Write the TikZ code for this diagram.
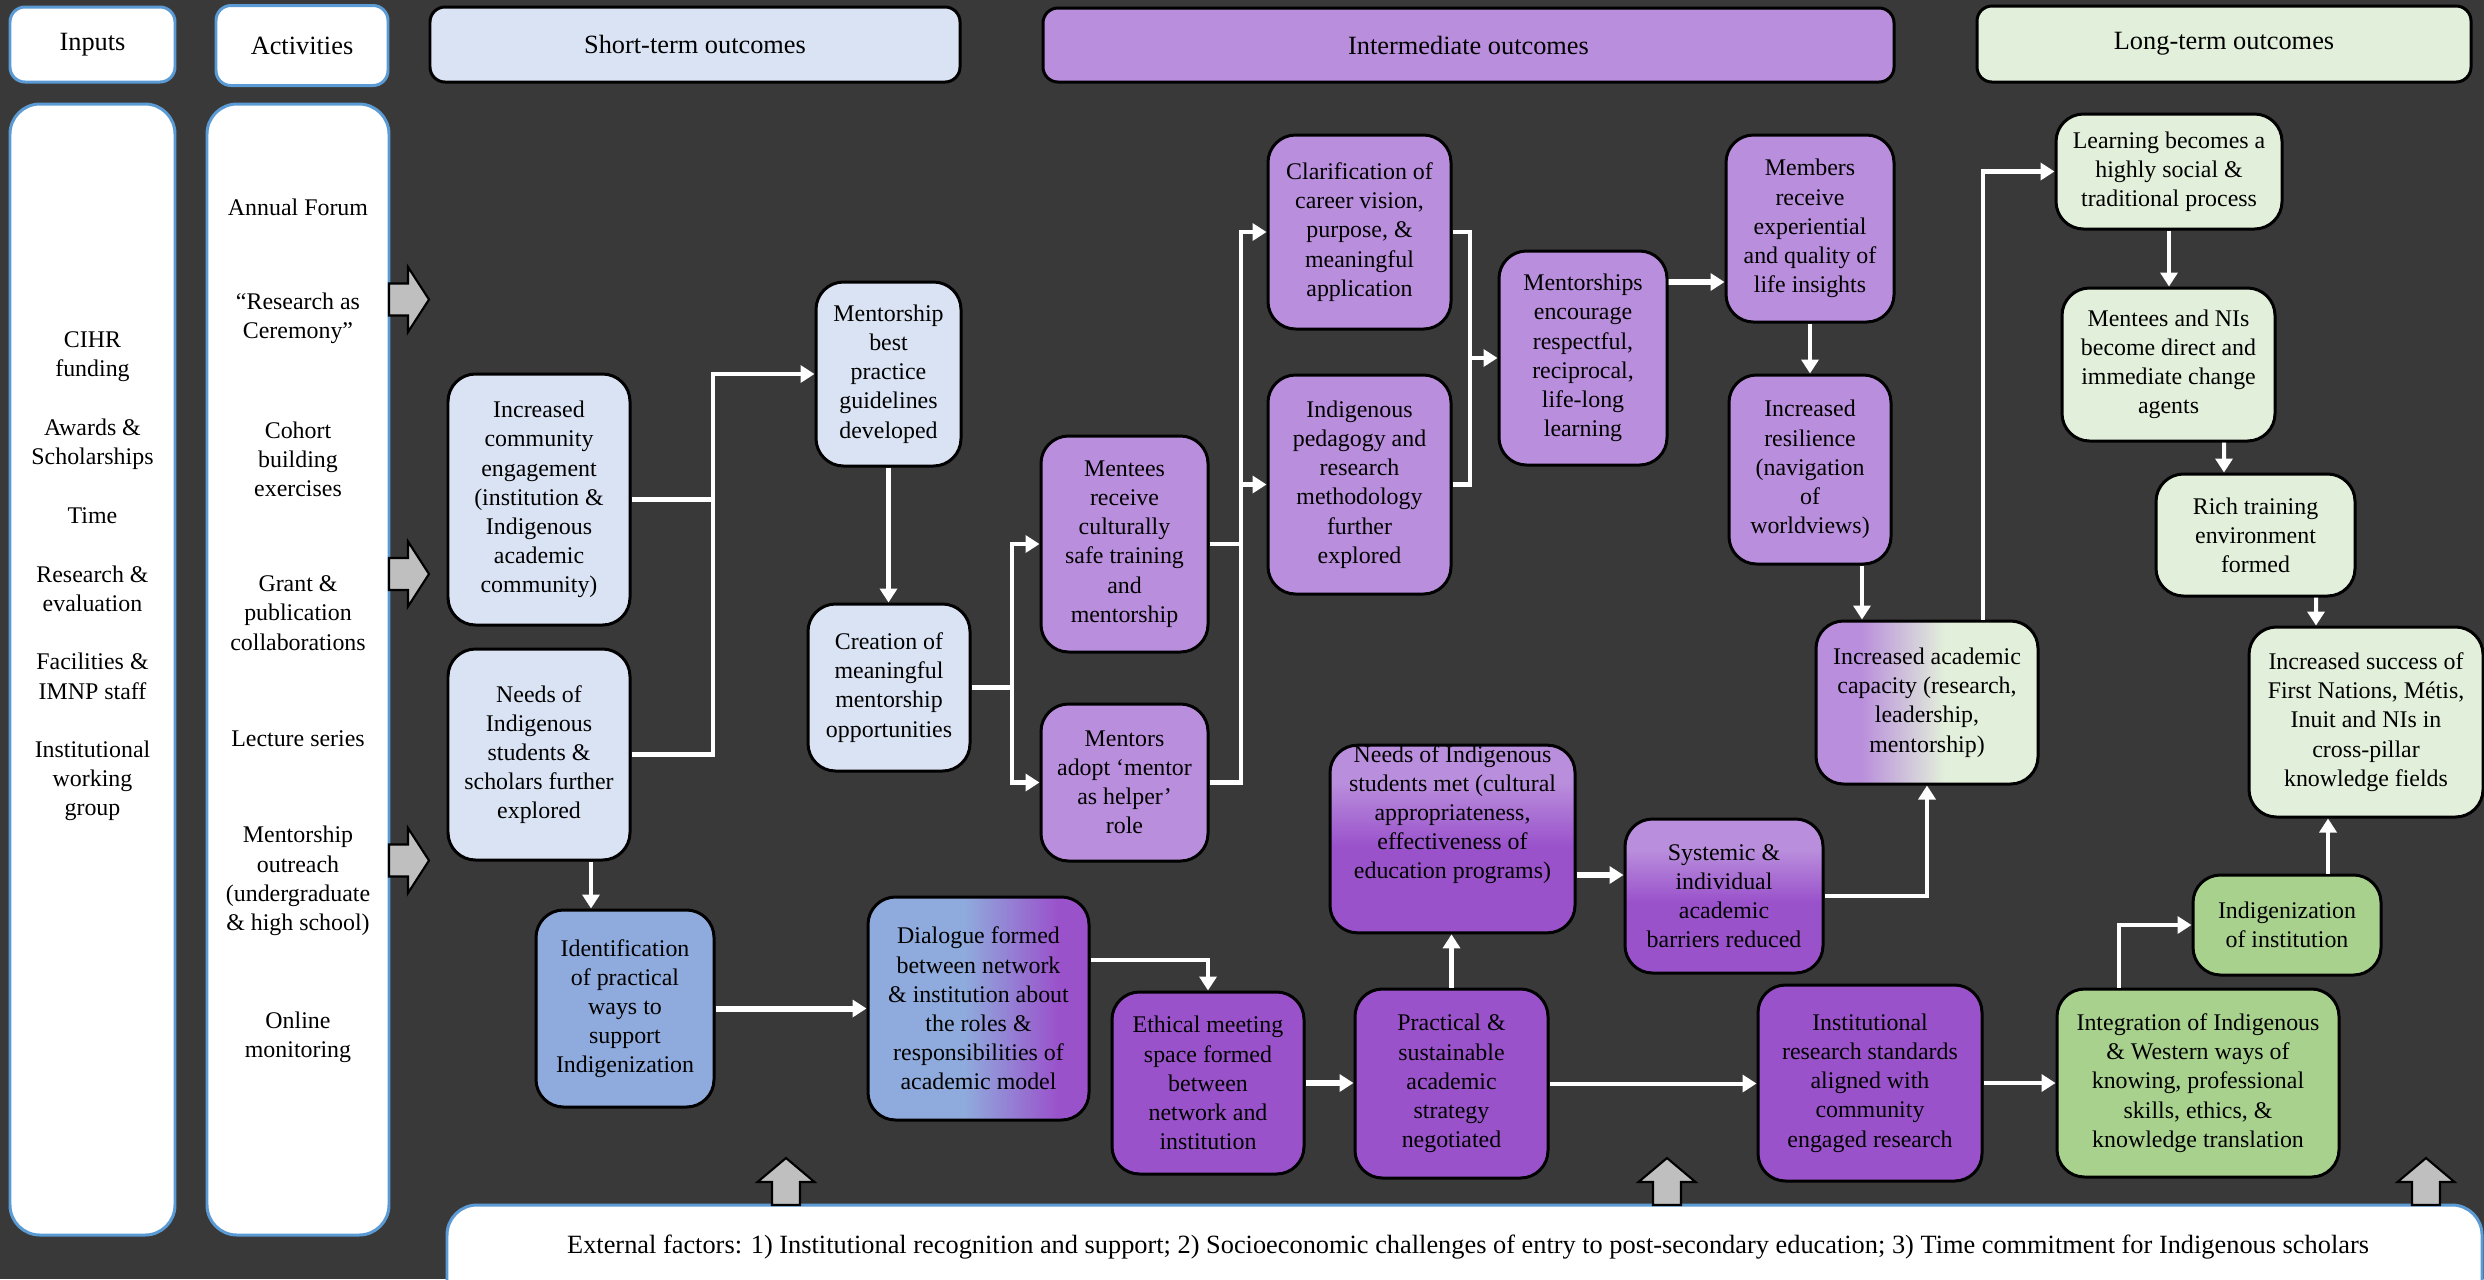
\documentclass[tikz,border=0pt]{standalone}
\usepackage{fontspec}
\setmainfont{Liberation Serif}
\usetikzlibrary{arrows.meta,calc}

\definecolor{bgdark}{HTML}{3A3939}
\definecolor{shortblue}{HTML}{DAE3F3}
\definecolor{lavender}{HTML}{B98EDC}
\definecolor{deeppurple}{HTML}{9A52CB}
\definecolor{idblue}{HTML}{8FAADC}
\definecolor{palegreen}{HTML}{E2EFDA}
\definecolor{midgreen}{HTML}{A9D18E}
\definecolor{colblue}{HTML}{5B9BD5}
\definecolor{arrowgray}{HTML}{BFBFBF}

\pgfdeclarehorizontalshading{dialogshade}{100bp}{color(0bp)=(idblue); color(47bp)=(idblue); color(68bp)=(deeppurple); color(100bp)=(deeppurple)}
\pgfdeclareverticalshading{needshade}{100bp}{color(0bp)=(deeppurple); color(48bp)=(deeppurple); color(65bp)=(lavender); color(100bp)=(lavender)}
\pgfdeclarehorizontalshading{capshade}{100bp}{color(0bp)=(lavender); color(35bp)=(lavender); color(54bp)=(palegreen); color(100bp)=(palegreen)}

\newcommand\boxfont{\fontsize{13.6}{16.6}\selectfont}
\newcommand\headfont{\fontsize{15}{18}\selectfont}

\begin{document}
\begin{tikzpicture}[x=0.02cm, y=-0.02cm,
    sz/.style 2 args={minimum width=#1*0.02cm, minimum height=#2*0.02cm},
    box/.style={draw=black, line width=1.7pt, rounded corners=0.55cm, align=center, inner sep=0pt, font=\boxfont},
    shortbox/.style={box, fill=shortblue},
    idbox/.style={box, fill=idblue},
    midbox/.style={box, fill=lavender},
    deepbox/.style={box, fill=deeppurple},
    greenbox/.style={box, fill=midgreen},
    longbox/.style={box, fill=palegreen},
    dialbox/.style={box, shade, shading=dialogshade},
    needbox/.style={box, shade, shading=needshade},
    capbox/.style={box, shade, shading=capshade},
    headbox/.style={draw=black, line width=1.7pt, rounded corners=0.3cm, inner sep=0pt, font=\headfont},
    colbox/.style={draw=colblue, fill=white, line width=1.7pt, rounded corners=0.6cm, inner sep=0pt},
    plain/.style={align=center, inner sep=0pt, font=\boxfont},
    link/.style={draw=white, line width=2.3pt},
    conn/.style={link, -{Triangle[length=0.28cm,width=0.34cm]}},
    fat/.style={line width=3.4pt},
    blockarrow/.style={draw=black, fill=arrowgray, line width=1.2pt}]

    % Achtergrond
    \useasboundingbox (0,0) rectangle (2484,1279);
    \fill[bgdark] (0,0) rectangle (2484,1279);

    % Kopjes
    \node[headbox, fill=white, draw=colblue, sz={165}{75}] (inhead) at (92.5,44.5) {Inputs};
    \node[headbox, fill=white, draw=colblue, sz={172}{80}] (acthead) at (302,45.5) {Activities};
    \node[headbox, fill=shortblue, sz={530}{75}] (shorthead) at (695,44.5) {Short-term outcomes};
    \node[headbox, fill=lavender, sz={851}{74}] (midhead) at (1468.5,45) {Intermediate outcomes};
    \node[headbox, fill=palegreen, sz={494}{76}] (longhead) at (2224,44) {Long-term outcomes};

    % Kolommen
    \node[colbox, sz={165}{1131}] (incol) at (92.5,669.5) {};
    \node[colbox, sz={182}{1131}] (actcol) at (298,669.5) {};

    \node[plain] (inputs) at (92.5,576.5) {CIHR\\funding\\[0.59cm]Awards \&\\Scholarships\\[0.59cm]Time\\[0.59cm]Research \&\\evaluation\\[0.59cm]Facilities \&\\IMNP staff\\[0.59cm]Institutional\\working\\group};

    \node[plain] (act1) at (298,207) {Annual Forum};
    \node[plain] (act2) at (298,318) {“Research as\\Ceremony”};
    \node[plain] (act3) at (298,459) {Cohort\\building\\exercises};
    \node[plain] (act4) at (298,613) {Grant \&\\publication\\collaborations};
    \node[plain] (act5) at (298,739) {Lecture series};
    \node[plain] (act6) at (298,881) {Mentorship\\outreach\\(undergraduate\\\& high school)};
    \node[plain] (act7) at (298,1037) {Online\\monitoring};

    % Grijze pijlen
    \foreach \y in {299.5,574,860.5} {
      \draw[blockarrow] (389,\y-16) -- (408,\y-16) -- (408,\y-32.5) -- (429,\y)
        -- (408,\y+32.5) -- (408,\y+16) -- (389,\y+16) -- cycle;
    }

    % Externe factoren
    \node[colbox, sz={2035}{150}] (extbox) at (1464.5,1280) {};
    \node[plain, font=\headfont] (exttext) at (1468,1247) {External factors: 1) Institutional recognition and support; 2) Socioeconomic challenges of entry to post-secondary education; 3) Time commitment for Indigenous scholars};
    \foreach \x in {786,1667,2426} {
      \draw[blockarrow] (\x-14,1205) -- (\x-14,1182) -- (\x-28.5,1182) -- (\x,1158)
        -- (\x+28.5,1182) -- (\x+14,1182) -- (\x+14,1205) -- cycle;
    }

    % Korte termijn
    \node[shortbox, sz={182}{251}] (engage) at (539,499.5) {Increased\\community\\engagement\\(institution \&\\Indigenous\\academic\\community)};
    \node[shortbox, sz={182}{211}] (needs) at (539,754.5) {Needs of\\Indigenous\\students \&\\scholars further\\explored};
    \node[shortbox, sz={145}{184}] (guide) at (888.5,374) {Mentorship\\best\\practice\\guidelines\\developed};
    \node[shortbox, sz={162}{167}] (create) at (889,687.5) {Creation of\\meaningful\\mentorship\\opportunities};
    \node[idbox, sz={178}{197}] (ident) at (625,1008.5) {Identification\\of practical\\ways to\\support\\Indigenization};
    \node[dialbox, sz={221}{223}] (dialog) at (978.5,1008.5) {Dialogue formed\\between network\\\& institution about\\the roles \&\\responsibilities of\\academic model};

    % Middellange termijn
    \node[midbox, sz={167}{216}] (mentees) at (1124.5,544) {Mentees\\receive\\culturally\\safe training\\and\\mentorship};
    \node[midbox, sz={167}{157}] (mentors) at (1124.5,782.5) {Mentors\\adopt ‘mentor\\as helper’\\role};
    \node[midbox, sz={183}{194}] (vision) at (1359.5,232) {Clarification of\\career vision,\\purpose, \&\\meaningful\\application};
    \node[midbox, sz={183}{219}] (pedagogy) at (1359.5,484.5) {Indigenous\\pedagogy and\\research\\methodology\\further\\explored};
    \node[midbox, sz={168}{214}] (lifelong) at (1583,358) {Mentorships\\encourage\\respectful,\\reciprocal,\\life-long\\learning};
    \node[midbox, sz={168}{187}] (insights) at (1810,228.5) {Members\\receive\\experiential\\and quality of\\life insights};
    \node[midbox, sz={162}{189}] (resilience) at (1810,469.5) {Increased\\resilience\\(navigation\\of\\worldviews)};
    \node[capbox, sz={222}{163}] (capacity) at (1927,702.5) {Increased academic\\capacity (research,\\leadership,\\mentorship)};
    \node[needbox, sz={245}{184}] (needsmet) at (1452.5,839) {Needs of Indigenous\\students met (cultural\\appropriateness,\\effectiveness of\\education programs)\\[0.5cm]};
    \node[needbox, sz={198}{154}] (barriers) at (1724,896) {Systemic \&\\individual\\academic\\barriers reduced};
    \node[deepbox, sz={192}{182}] (ethical) at (1208,1083) {Ethical meeting\\space formed\\between\\network and\\institution};
    \node[deepbox, sz={193}{189}] (strategy) at (1451.5,1083.5) {Practical \&\\sustainable\\academic\\strategy\\negotiated};
    \node[deepbox, sz={224}{196}] (standards) at (1870,1083) {Institutional\\research standards\\aligned with\\community\\engaged research};

    % Lange termijn
    \node[greenbox, sz={282}{188}] (integrate) at (2198,1083) {Integration of Indigenous\\\& Western ways of\\knowing, professional\\skills, ethics, \&\\knowledge translation};
    \node[greenbox, sz={188}{100}] (indigenize) at (2287,925) {Indigenization\\of institution};
    \node[longbox, sz={234}{190}] (success) at (2366,722) {Increased success of\\First Nations, Métis,\\Inuit and NIs in\\cross-pillar\\knowledge fields};
    \node[longbox, sz={226}{115}] (learning) at (2169,171.5) {Learning becomes a\\highly social \&\\traditional process};
    \node[longbox, sz={213}{153}] (agents) at (2168.5,364.5) {Mentees and NIs\\become direct and\\immediate change\\agents};
    \node[longbox, sz={199}{122}] (richenv) at (2255.5,535) {Rich training\\environment\\formed};

    % Verbindingen
    \coordinate (j1) at (713,374);
    \coordinate (j2) at (1012,687.5);
    \coordinate (j3) at (1241,544);
    \coordinate (j4) at (1470,358);

    \draw[link] (engage.east) -| (j1);
    \draw[conn] (needs.east) -| (j1) -- (guide.west);
    \draw[conn] (guide.south) -- (guide.south |- create.north);
    \draw[link] (create.east) -- (j2);
    \draw[conn] (j2) |- (mentees.west);
    \draw[conn] (j2) |- (mentors.west);
    \draw[link] (mentees.east) -- (j3);
    \draw[link] (mentors.east) -| (j3);
    \draw[conn] (j3) |- (vision.west);
    \draw[conn] (j3) |- (pedagogy.west);
    \draw[link] (vision.east) -| (j4);
    \draw[link] (pedagogy.east) -| (j4);
    \draw[conn] (j4) -- (lifelong.west);
    \draw[conn, fat] ($(lifelong.east)+(0,-76)$) -- ($(insights.west)+(0,53.5)$);
    \draw[conn] (insights.south) -- (resilience.north);
    \draw[conn] ($(resilience.south)+(52,0)$) -- ($(capacity.north)+(-65,0)$);
    \draw[conn] ($(capacity.north)+(56,0)$) |- (learning.west);
    \draw[conn] (learning.south) -- (learning.south |- agents.north);
    \draw[conn] ($(agents.south)+(55.5,0)$) -- ($(richenv.north)+(-31.5,0)$);
    \draw[conn] ($(richenv.south)+(60.5,0)$) -- ($(success.north)+(-50,0)$);
    \draw[conn] ($(indigenize.north)+(41,0)$) -- ($(success.south)+(-38,0)$);
    \draw[conn] ($(integrate.north)+(-79,0)$) |- (indigenize.west);
    \draw[conn] (standards.east) -- (integrate.west);
    \draw[conn] (strategy.east) -- (strategy.east -| standards.west);
    \draw[conn, fat] (ethical.east) -- (ethical.east -| strategy.west);
    \draw[conn] (strategy.north) -- (strategy.north |- needsmet.south);
    \draw[conn, fat] ($(needsmet.east)+(0,36)$) -- ($(barriers.west)+(0,-21)$);
    \draw[conn] (barriers.east) -| (capacity.south);
    \draw[conn] ($(dialog.east)+(0,-48.5)$) -| (ethical.north);
    \draw[conn, fat] (ident.east) -- (dialog.west);
    \draw[conn] ($(needs.south)+(52,0)$) -- ($(ident.north)+(-34,0)$);
  \end{tikzpicture}
\end{document}
